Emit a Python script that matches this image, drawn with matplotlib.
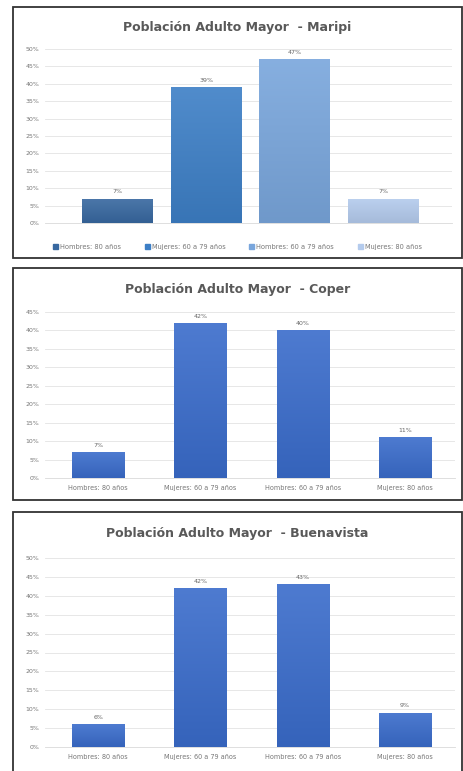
import matplotlib.pyplot as plt
from matplotlib.patches import Rectangle
from matplotlib.colors import to_rgb
import numpy as np

categorias = ['Hombres: 80 años', 'Mujeres: 60 a 79 años', 'Hombres: 60 a 79 años', 'Mujeres: 80 años']

maripi = [7, 39, 47, 7]
coper = [7, 42, 40, 11]
buenavista = [6, 42, 43, 9]

maripi_colores = ['#3868a0', '#3d7fc6', '#79a6dc', '#b4cbed']
azul = '#3a6ccb'

W, H = 464, 771
fig = plt.figure(figsize=(W / 100, H / 100), dpi=100)
fig.patch.set_facecolor('white')


def px_axes(x0, x1, ytop, ybot):
    return fig.add_axes([x0 / W, 1 - ybot / H, (x1 - x0) / W, (ybot - ytop) / H])


def marco(y0, y1):
    fig.add_artist(Rectangle((13 / W, 1 - y1 / H), (462 - 13) / W, (y1 - y0) / H,
                             transform=fig.transFigure, fill=False,
                             edgecolor='#333333', linewidth=1.3))


def degradado(ax, bars, colores):
    # relleno con degradado vertical suave (claro arriba, oscuro abajo)
    for b, c in zip(bars, colores):
        rgb = np.array(to_rgb(c))
        top = rgb + (1 - rgb) * 0.1
        bot = rgb * 0.92
        t = np.linspace(0, 1, 64)[:, None]
        img = (top * (1 - t) + bot * t)[:, None, :]
        x0, w, h = b.get_x(), b.get_width(), b.get_height()
        im = ax.imshow(img, extent=(x0, x0 + w, 0, h), aspect='auto', zorder=3,
                       interpolation='bilinear', origin='upper')
        im.set_clip_path(b)
        b.set_facecolor('none')


def panel(ax, valores, colores, ymax, ancho, xlim, titulo, ytitulo, etiquetas_x):
    x = np.arange(len(valores))
    if isinstance(colores, str):
        colores = [colores] * len(valores)
    bars = ax.bar(x, valores, width=ancho, color=colores, zorder=3, linewidth=0)
    degradado(ax, bars, colores)
    ax.set_ylim(0, ymax)
    ax.set_xlim(*xlim)
    for xi, v in zip(x, valores):
        ax.text(xi, v + ymax * 0.025, f'{v}%', ha='center', va='bottom',
                fontsize=4.5, color='#666666')
    ax.set_yticks(np.arange(0, ymax + 1, 5))
    ax.set_yticklabels([f'{t}%' for t in range(0, ymax + 1, 5)])
    ax.yaxis.grid(True, color='#e3e3e3', linewidth=0.6, zorder=0)
    ax.tick_params(axis='y', length=0, labelsize=4.5, labelcolor='#777777', pad=4)
    for s in ['top', 'right', 'left']:
        ax.spines[s].set_visible(False)
    ax.spines['bottom'].set_color('#d9d9d9')
    ax.spines['bottom'].set_linewidth(0.6)
    ax.set_xticks(x)
    if etiquetas_x:
        ax.set_xticklabels(categorias)
        ax.tick_params(axis='x', length=0, labelsize=4.7, labelcolor='#777777', pad=5)
    else:
        ax.set_xticklabels([])
        ax.tick_params(axis='x', length=0)
    fig.text(0.5 * (13 + 462) / W, 1 - ytitulo / H, titulo, ha='center', va='center',
             fontsize=9, fontweight='bold', color='#595959')


# Maripi
marco(7, 258)
ax1 = px_axes(45, 452, 49, 223)
panel(ax1, maripi, maripi_colores, 50, 0.8, (-0.82, 3.78),
      'Población Adulto Mayor  - Maripi', 27, False)
handles = [Rectangle((0, 0), 1, 1, color=c) for c in maripi_colores]
fig.legend(handles, categorias, loc='center', bbox_to_anchor=(0.5 * (13 + 462) / W, 1 - 247 / H),
           ncol=4, frameon=False, fontsize=4.8, handlelength=0.7, handleheight=0.7,
           handletextpad=0.3, columnspacing=3.6, labelcolor='#777777')

# Coper
marco(268, 500)
ax2 = px_axes(45, 455, 312, 478)
panel(ax2, coper, azul, 45, 0.51, (-0.52, 3.49),
      'Población Adulto Mayor  - Coper', 289, True)

# Buenavista
marco(512, 776)
ax3 = px_axes(45, 455, 558, 747)
panel(ax3, buenavista, azul, 50, 0.51, (-0.52, 3.49),
      'Población Adulto Mayor  - Buenavista', 533, True)

fig.savefig('out.png', dpi=100)
